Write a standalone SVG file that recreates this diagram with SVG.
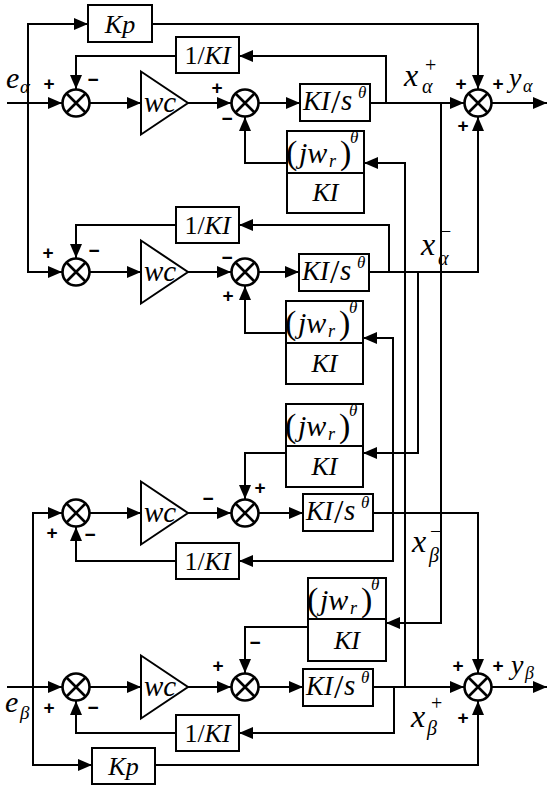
<svg xmlns="http://www.w3.org/2000/svg" width="550" height="789" viewBox="0 0 550 789" font-family="Liberation Serif, Times New Roman, Tinos, Noto Serif, DejaVu Serif, serif">
<style>
.ln{fill:none;stroke:#000;stroke-width:2}
.ar{fill:none;stroke:#000;stroke-width:2;marker-end:url(#ah)}
.bx{fill:#fff;stroke:#000;stroke-width:2}
.sc{fill:#fff;stroke:#000;stroke-width:2.6}
.sx{stroke:#000;stroke-width:2.6}
.tri{fill:#fff;stroke:#000;stroke-width:2}
.t{fill:#000}
.i{font-style:italic}
.sg{font-family:'Liberation Sans',Arial,sans-serif;font-weight:bold;font-size:19px;text-anchor:middle;fill:#000}
</style>
<defs>
<marker id="ah" markerUnits="userSpaceOnUse" markerWidth="14" markerHeight="12" refX="14" refY="6" orient="auto"><path d="M0,0 L14,6 L0,12 z" fill="#000"/></marker>
</defs>

<g id="connectors">
<polyline class="ar" points="7,103 62,103"/>
<polyline class="ar" points="28,103 28,24 88,24"/>
<polyline class="ar" points="28,103 28,272 62,272"/>
<polyline class="ar" points="152,24 478,24 478,89"/>
<polyline class="ar" points="90,103 141,103"/>
<polyline class="ar" points="188,103 231,103"/>
<polyline class="ar" points="259,103 300,103"/>
<polyline class="ar" points="370,103 464,103"/>
<polyline class="ar" points="492,103 547,103"/>
<polyline class="ar" points="386,103 386,56 239,56"/>
<polyline class="ar" points="176,56 76,56 76,89"/>
<polyline class="ar" points="405,687 405,163 364,163"/>
<polyline class="ar" points="287,163 245,163 245,117"/>
<polyline class="ar" points="441,103 441,623 386,623"/>
<polyline class="ar" points="90,272 141,272"/>
<polyline class="ar" points="188,272 231,272"/>
<polyline class="ar" points="259,272 299,272"/>
<polyline class="ar" points="369,272 478,272 478,117"/>
<polyline class="ar" points="389,272 389,225 239,225"/>
<polyline class="ar" points="176,225 76,225 76,258"/>
<polyline class="ar" points="393,561 393,338 363,338"/>
<polyline class="ar" points="286,333 245,333 245,286"/>
<polyline class="ar" points="418,272 418,453 363,453"/>
<polyline class="ar" points="33,687 33,513 62,513"/>
<polyline class="ar" points="90,513 141,513"/>
<polyline class="ar" points="188,513 231,513"/>
<polyline class="ar" points="259,513 303,513"/>
<polyline class="ar" points="373,513 478,513 478,673"/>
<polyline class="ar" points="286,453 245,453 245,499"/>
<polyline class="ar" points="393,513 393,561 239,561"/>
<polyline class="ar" points="176,561 76,561 76,527"/>
<polyline class="ar" points="7,687 62,687"/>
<polyline class="ar" points="33,687 33,765 92,765"/>
<polyline class="ar" points="155,765 478,765 478,701"/>
<polyline class="ar" points="90,687 141,687"/>
<polyline class="ar" points="188,687 231,687"/>
<polyline class="ar" points="259,687 303,687"/>
<polyline class="ar" points="373,687 464,687"/>
<polyline class="ar" points="492,687 547,687"/>
<polyline class="ar" points="394,687 394,733 239,733"/>
<polyline class="ar" points="176,733 76,733 76,701"/>
<polyline class="ar" points="308,627 245,627 245,673"/>
</g>

<g id="kp-alpha"><rect class="bx" x="88" y="5" width="64" height="37"/><text class="t i" x="120" y="33" font-size="26" text-anchor="middle">Kp</text></g>
<g id="inv-1" transform="translate(176,55)"><rect class="bx" x="0" y="-18" width="63" height="36"/><text class="t" x="31.5" y="9" font-size="26" text-anchor="middle">1/<tspan class="i">KI</tspan></text></g>
<g id="sum1-1" transform="translate(76,103)"><circle class="sc" r="13.5"/><path class="sx" d="M-9.5,-9.5 L9.5,9.5 M-9.5,9.5 L9.5,-9.5"/></g>
<g id="wc-1" transform="translate(141,103)"><polygon class="tri" points="0,-31.5 0,31.5 47,0"/><text class="t i" x="3" y="9" font-size="29">wc</text></g>
<g id="sum2-1" transform="translate(245,103)"><circle class="sc" r="13.5"/><path class="sx" d="M-9.5,-9.5 L9.5,9.5 M-9.5,9.5 L9.5,-9.5"/></g>
<g id="kis-1" transform="translate(300,102.5)"><rect class="bx" x="0" y="-18.5" width="70" height="37"/><text class="t i" x="3" y="7" font-size="27">KI</text><text class="t" x="31" y="10" font-size="34">/</text><text class="t i" x="41" y="7" font-size="29">s</text><text class="t i" x="58" y="-5" font-size="17">θ</text></g>
<g id="jw-1" transform="translate(287,131)"><rect class="bx" x="0" y="0" width="77" height="82"/><line class="ln" x1="0" y1="42" x2="77" y2="42"/><text class="t" x="-1" y="33" font-size="34">(</text><text class="t i" x="12" y="32" font-size="30">jw</text><text class="t i" x="42" y="36" font-size="18">r</text><text class="t" x="53" y="33" font-size="34">)</text><text class="t i" x="63" y="12" font-size="17">θ</text><text class="t i" x="38.5" y="70" font-size="26" text-anchor="middle">KI</text></g>
<g id="sum-ya" transform="translate(478,103)"><circle class="sc" r="13.5"/><path class="sx" d="M-9.5,-9.5 L9.5,9.5 M-9.5,9.5 L9.5,-9.5"/></g>

<g id="inv-2" transform="translate(176,225)"><rect class="bx" x="0" y="-18" width="63" height="36"/><text class="t" x="31.5" y="9" font-size="26" text-anchor="middle">1/<tspan class="i">KI</tspan></text></g>
<g id="sum1-2" transform="translate(76,272)"><circle class="sc" r="13.5"/><path class="sx" d="M-9.5,-9.5 L9.5,9.5 M-9.5,9.5 L9.5,-9.5"/></g>
<g id="wc-2" transform="translate(141,272)"><polygon class="tri" points="0,-31.5 0,31.5 47,0"/><text class="t i" x="3" y="9" font-size="29">wc</text></g>
<g id="sum2-2" transform="translate(245,272)"><circle class="sc" r="13.5"/><path class="sx" d="M-9.5,-9.5 L9.5,9.5 M-9.5,9.5 L9.5,-9.5"/></g>
<g id="kis-2" transform="translate(299,272.5)"><rect class="bx" x="0" y="-18.5" width="70" height="37"/><text class="t i" x="3" y="7" font-size="27">KI</text><text class="t" x="31" y="10" font-size="34">/</text><text class="t i" x="41" y="7" font-size="29">s</text><text class="t i" x="58" y="-5" font-size="17">θ</text></g>
<g id="jw-2" transform="translate(286,301)"><rect class="bx" x="0" y="0" width="77" height="83"/><line class="ln" x1="0" y1="42" x2="77" y2="42"/><text class="t" x="-1" y="33" font-size="34">(</text><text class="t i" x="12" y="32" font-size="30">jw</text><text class="t i" x="42" y="36" font-size="18">r</text><text class="t" x="53" y="33" font-size="34">)</text><text class="t i" x="63" y="12" font-size="17">θ</text><text class="t i" x="38.5" y="71" font-size="26" text-anchor="middle">KI</text></g>

<g id="jw-3" transform="translate(286,404)"><rect class="bx" x="0" y="0" width="77" height="83"/><line class="ln" x1="0" y1="42" x2="77" y2="42"/><text class="t" x="-1" y="33" font-size="34">(</text><text class="t i" x="12" y="32" font-size="30">jw</text><text class="t i" x="42" y="36" font-size="18">r</text><text class="t" x="53" y="33" font-size="34">)</text><text class="t i" x="63" y="12" font-size="17">θ</text><text class="t i" x="38.5" y="71" font-size="26" text-anchor="middle">KI</text></g>
<g id="sum1-3" transform="translate(76,513)"><circle class="sc" r="13.5"/><path class="sx" d="M-9.5,-9.5 L9.5,9.5 M-9.5,9.5 L9.5,-9.5"/></g>
<g id="wc-3" transform="translate(141,513)"><polygon class="tri" points="0,-31.5 0,31.5 47,0"/><text class="t i" x="3" y="9" font-size="29">wc</text></g>
<g id="sum2-3" transform="translate(245,513)"><circle class="sc" r="13.5"/><path class="sx" d="M-9.5,-9.5 L9.5,9.5 M-9.5,9.5 L9.5,-9.5"/></g>
<g id="kis-3" transform="translate(303,512.5)"><rect class="bx" x="0" y="-18.5" width="70" height="37"/><text class="t i" x="3" y="7" font-size="27">KI</text><text class="t" x="31" y="10" font-size="34">/</text><text class="t i" x="41" y="7" font-size="29">s</text><text class="t i" x="58" y="-5" font-size="17">θ</text></g>
<g id="inv-3" transform="translate(176,561)"><rect class="bx" x="0" y="-18" width="63" height="36"/><text class="t" x="31.5" y="9" font-size="26" text-anchor="middle">1/<tspan class="i">KI</tspan></text></g>

<g id="jw-4" transform="translate(308,578)"><rect class="bx" x="0" y="0" width="78" height="83"/><line class="ln" x1="0" y1="41" x2="78" y2="41"/><text class="t" x="-1" y="33" font-size="34">(</text><text class="t i" x="12" y="32" font-size="30">jw</text><text class="t i" x="42" y="36" font-size="18">r</text><text class="t" x="53" y="33" font-size="34">)</text><text class="t i" x="63" y="12" font-size="17">θ</text><text class="t i" x="39" y="71" font-size="26" text-anchor="middle">KI</text></g>
<g id="sum1-4" transform="translate(76,687)"><circle class="sc" r="13.5"/><path class="sx" d="M-9.5,-9.5 L9.5,9.5 M-9.5,9.5 L9.5,-9.5"/></g>
<g id="wc-4" transform="translate(141,687)"><polygon class="tri" points="0,-31.5 0,31.5 47,0"/><text class="t i" x="3" y="9" font-size="29">wc</text></g>
<g id="sum2-4" transform="translate(245,687)"><circle class="sc" r="13.5"/><path class="sx" d="M-9.5,-9.5 L9.5,9.5 M-9.5,9.5 L9.5,-9.5"/></g>
<g id="kis-4" transform="translate(303,687.5)"><rect class="bx" x="0" y="-18.5" width="70" height="37"/><text class="t i" x="3" y="7" font-size="27">KI</text><text class="t" x="31" y="10" font-size="34">/</text><text class="t i" x="41" y="7" font-size="29">s</text><text class="t i" x="58" y="-5" font-size="17">θ</text></g>
<g id="inv-4" transform="translate(176,733)"><rect class="bx" x="0" y="-18" width="63" height="36"/><text class="t" x="31.5" y="9" font-size="26" text-anchor="middle">1/<tspan class="i">KI</tspan></text></g>
<g id="sum-yb" transform="translate(478,687)"><circle class="sc" r="13.5"/><path class="sx" d="M-9.5,-9.5 L9.5,9.5 M-9.5,9.5 L9.5,-9.5"/></g>
<g id="kp-beta"><rect class="bx" x="92" y="748" width="63" height="36"/><text class="t i" x="123.5" y="775" font-size="26" text-anchor="middle">Kp</text></g>

<g id="labels">
<text class="t i" x="6" y="88" font-size="30">e</text><text class="t i" x="20" y="93" font-size="19">α</text>
<text class="t i" x="404" y="86" font-size="32">x</text><text class="t i" x="422" y="93" font-size="20">α</text><text class="t" x="425" y="72" font-size="20">+</text>
<text class="t i" x="509" y="87" font-size="28">y</text><text class="t i" x="523" y="92" font-size="18">α</text>
<text class="t i" x="421" y="255" font-size="32">x</text><text class="t i" x="438" y="265" font-size="20">α</text><text class="t" x="440" y="238" font-size="20">−</text>
<text class="t i" x="412" y="552" font-size="32">x</text><text class="t i" x="429" y="562" font-size="20">β</text><text class="t" x="430" y="538" font-size="20">−</text>
<text class="t i" x="411" y="727" font-size="32">x</text><text class="t i" x="427" y="735" font-size="20">β</text><text class="t" x="431" y="710" font-size="20">+</text>
<text class="t i" x="511" y="674" font-size="28">y</text><text class="t i" x="525" y="679" font-size="18">β</text>
<text class="t i" x="5" y="712" font-size="30">e</text><text class="t i" x="20" y="719" font-size="19">β</text>
</g>

<g id="signs">
<text class="sg" x="49" y="90">+</text><text class="sg" x="93" y="86">−</text>
<text class="sg" x="217" y="94">+</text><text class="sg" x="227" y="125">−</text>
<text class="sg" x="461" y="90">+</text><text class="sg" x="498" y="90">+</text><text class="sg" x="463" y="132">+</text>
<text class="sg" x="48" y="259">+</text><text class="sg" x="94" y="257">−</text>
<text class="sg" x="227" y="264">−</text><text class="sg" x="228" y="302">+</text>
<text class="sg" x="52" y="539">+</text><text class="sg" x="90" y="541">−</text>
<text class="sg" x="208" y="505">−</text><text class="sg" x="260" y="494">+</text>
<text class="sg" x="49" y="714">+</text><text class="sg" x="93" y="714">−</text>
<text class="sg" x="218" y="672">+</text><text class="sg" x="255" y="649">−</text>
<text class="sg" x="458" y="672">+</text><text class="sg" x="498" y="672">+</text><text class="sg" x="463" y="724">+</text>
</g>
</svg>
